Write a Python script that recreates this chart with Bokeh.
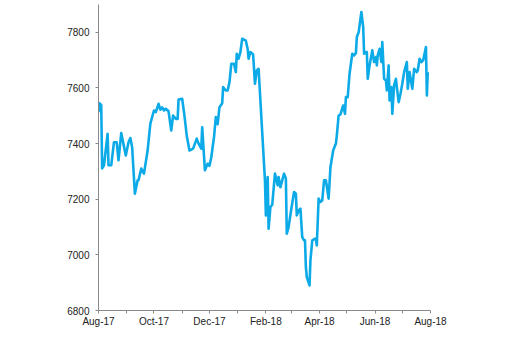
import pandas as pd
from datetime import datetime
from bokeh.plotting import figure
from bokeh.models import Range1d, FixedTicker, DatetimeTickFormatter
from bokeh.embed import file_html
from bokeh.resources import INLINE

# ---- data ----
dates = [
    "2017-08-01", "2017-08-02", "2017-08-04", "2017-08-05", "2017-08-07", "2017-08-11",
    "2017-08-12", "2017-08-15", "2017-08-18", "2017-08-21", "2017-08-23", "2017-08-26",
    "2017-08-29", "2017-08-31", "2017-09-03", "2017-09-05", "2017-09-07", "2017-09-10",
    "2017-09-13", "2017-09-14", "2017-09-17", "2017-09-20", "2017-09-24", "2017-09-27",
    "2017-10-01", "2017-10-03", "2017-10-06", "2017-10-08", "2017-10-10", "2017-10-12",
    "2017-10-14", "2017-10-17", "2017-10-20", "2017-10-22", "2017-10-25", "2017-10-27",
    "2017-10-28", "2017-11-01", "2017-11-03", "2017-11-04", "2017-11-06", "2017-11-09",
    "2017-11-13", "2017-11-17", "2017-11-19", "2017-11-22", "2017-11-23", "2017-11-26",
    "2017-11-29", "2017-12-01", "2017-12-03", "2017-12-06", "2017-12-08", "2017-12-10",
    "2017-12-12", "2017-12-15", "2017-12-16", "2017-12-19", "2017-12-21", "2017-12-23",
    "2017-12-25", "2017-12-28", "2017-12-30", "2017-12-31", "2018-01-02", "2018-01-04",
    "2018-01-06", "2018-01-10", "2018-01-12", "2018-01-13", "2018-01-15", "2018-01-18",
    "2018-01-20", "2018-01-22", "2018-01-24", "2018-01-31", "2018-02-01", "2018-02-03",
    "2018-02-04", "2018-02-06", "2018-02-08", "2018-02-11", "2018-02-14", "2018-02-15",
    "2018-02-17", "2018-02-21", "2018-02-23", "2018-02-24", "2018-02-26", "2018-03-01",
    "2018-03-04", "2018-03-06", "2018-03-07", "2018-03-09", "2018-03-11", "2018-03-13",
    "2018-03-15", "2018-03-16", "2018-03-17", "2018-03-18", "2018-03-21", "2018-03-22",
    "2018-03-24", "2018-03-27", "2018-03-28", "2018-03-29", "2018-03-31", "2018-04-02",
    "2018-04-04", "2018-04-06", "2018-04-08", "2018-04-11", "2018-04-13", "2018-04-16",
    "2018-04-19", "2018-04-20", "2018-04-22", "2018-04-24", "2018-04-27", "2018-04-29",
    "2018-04-30", "2018-05-02", "2018-05-04", "2018-05-07", "2018-05-09", "2018-05-11",
    "2018-05-12", "2018-05-14", "2018-05-17", "2018-05-19", "2018-05-20", "2018-05-22",
    "2018-05-23", "2018-05-24", "2018-05-26", "2018-05-29", "2018-05-31", "2018-06-02",
    "2018-06-03", "2018-06-04", "2018-06-06", "2018-06-08", "2018-06-09", "2018-06-11",
    "2018-06-13", "2018-06-14", "2018-06-16", "2018-06-17", "2018-06-19", "2018-06-20",
    "2018-06-22", "2018-06-24", "2018-06-25", "2018-06-27", "2018-06-29", "2018-07-01",
    "2018-07-03", "2018-07-06", "2018-07-07", "2018-07-09", "2018-07-12", "2018-07-14",
    "2018-07-17", "2018-07-18", "2018-07-20", "2018-07-22", "2018-07-24", "2018-07-27",
    "2018-07-28", "2018-07-29",
]
values = [
    7513, 7545, 7538, 7311, 7322, 7435,
    7322, 7322, 7405, 7405, 7340, 7438,
    7390, 7357, 7405, 7420, 7387, 7220,
    7268, 7268, 7310, 7292, 7375, 7472,
    7519, 7513, 7543, 7522, 7530, 7519,
    7525, 7516, 7447, 7501, 7489, 7489,
    7558, 7561, 7513, 7486, 7429, 7375,
    7382, 7418, 7400, 7382, 7459, 7304,
    7328, 7320, 7351, 7423, 7495, 7470,
    7531, 7545, 7603, 7591, 7591, 7621,
    7687, 7687, 7657, 7723, 7705, 7729,
    7777, 7770, 7740, 7705, 7729, 7720,
    7615, 7663, 7669, 7268, 7142, 7280,
    7094, 7172, 7180, 7292, 7250, 7280,
    7243, 7292, 7275, 7076, 7100, 7166,
    7226, 7220, 7142, 7160, 7166, 7064,
    7052, 7052, 6956, 6920, 6890, 6980,
    7052, 7058, 7058, 7034, 7202, 7190,
    7196, 7268, 7268, 7202, 7315, 7375,
    7400, 7429, 7501, 7505, 7537, 7507,
    7567, 7567, 7651, 7723, 7717, 7725,
    7783, 7800, 7873, 7819, 7723, 7729,
    7729, 7633, 7681, 7735, 7693, 7711,
    7681, 7717, 7741, 7693, 7765, 7633,
    7627, 7591, 7681, 7555, 7603, 7507,
    7609, 7633, 7603, 7549, 7579, 7615,
    7657, 7693, 7597, 7657, 7597, 7669,
    7657, 7663, 7705, 7693, 7700, 7747,
    7573, 7657,
]
x_tick_months = ["2017-08-01", "2017-10-01", "2017-12-01", "2018-02-01",
                 "2018-04-01", "2018-06-01", "2018-08-01"]
x_minor_months = ["2017-09-01", "2017-11-01", "2018-01-01", "2018-03-01",
                  "2018-05-01", "2018-07-01"]
y_ticks = [6800, 7000, 7200, 7400, 7600, 7800]

# ---- figure ----
x = pd.to_datetime(dates)

p = figure(width=490, height=350, output_backend="svg", toolbar_location=None,
           x_axis_type="datetime",
           x_range=Range1d(datetime(2017, 8, 1), datetime(2018, 8, 1)),
           y_range=Range1d(6800, 7900),
           min_border_left=98, min_border_right=60, min_border_top=4,
           min_border_bottom=40)
p.outline_line_color = None
p.grid.visible = False
p.background_fill_color = "white"
p.border_fill_color = "white"

p.line(x, values, line_color="#0DAAE8", line_width=2.6, line_join="round")

to_ms = lambda lst: [pd.Timestamp(d).value / 1e6 for d in lst]
p.xaxis.ticker = FixedTicker(ticks=to_ms(x_tick_months), minor_ticks=to_ms(x_minor_months))
p.xaxis.formatter = DatetimeTickFormatter(
    milliseconds="%b-%y", seconds="%b-%y", minsec="%b-%y", minutes="%b-%y",
    hourmin="%b-%y", hours="%b-%y", days="%b-%y", months="%b-%y", years="%b-%y")
p.yaxis.ticker = FixedTicker(ticks=y_ticks)

for ax in (p.xaxis[0], p.yaxis[0]):
    ax.axis_line_color = "#8a8a8a"
    ax.axis_line_width = 1
    ax.major_tick_line_color = "#8a8a8a"
    ax.minor_tick_line_color = "#8a8a8a"
    ax.major_tick_in = 0
    ax.major_tick_out = 3
    ax.minor_tick_in = 0
    ax.minor_tick_out = 3
    ax.major_label_text_font = "Liberation Sans"
    ax.major_label_text_font_size = "10px"
    ax.major_label_text_color = "#222222"
p.yaxis.minor_tick_line_color = None
p.xaxis.major_label_standoff = 2
p.yaxis.major_label_standoff = 6

open("out.html", "w").write(file_html(p, INLINE))
